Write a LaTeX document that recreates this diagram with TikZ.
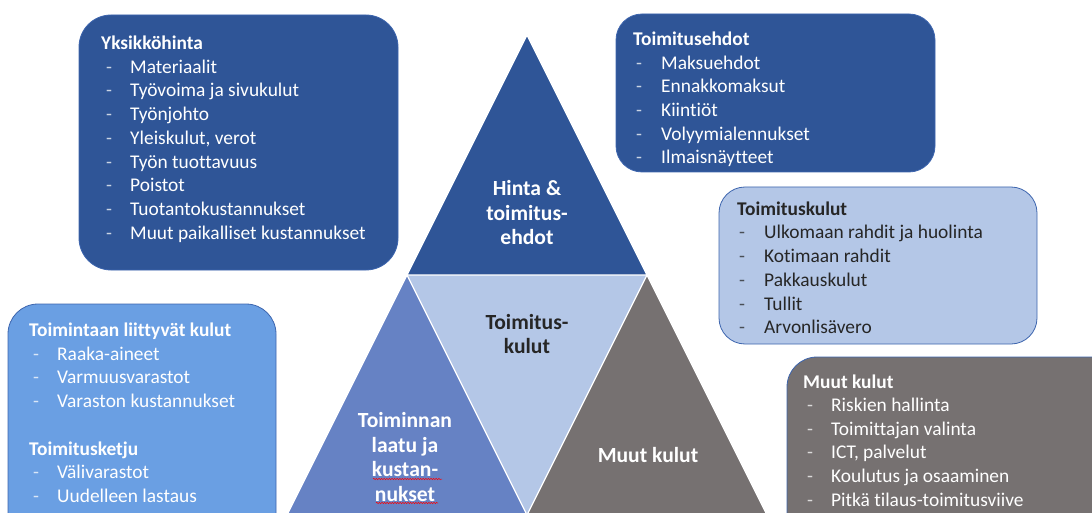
\documentclass[tikz,border=0pt]{standalone}
\usepackage{fontspec}
\setmainfont{Carlito}[Ligatures=NoCommon]
\usetikzlibrary{decorations.pathmorphing}

\definecolor{navy}{HTML}{2F5597}
\definecolor{pale}{HTML}{B4C7E7}
\definecolor{midblue}{HTML}{6682C4}
\definecolor{skyblue}{HTML}{6A9FE3}
\definecolor{stone}{HTML}{767171}
\definecolor{rim}{HTML}{3D65AE}
\definecolor{ink}{HTML}{262626}

\tikzset{
  card/.style={draw=rim, line width=0.8pt},
  facet/.style={draw=white, line width=1.2pt, line join=round},
  txt/.style={inner sep=0pt, anchor=base west, font=\fontsize{19.4}{23.7}\selectfont},
  head/.style={txt, font=\fontsize{19.4}{23.7}\selectfont\bfseries},
  dashmark/.style={txt, opacity=0.75},
  label/.style={inner sep=0pt, align=center, font=\fontsize{21.6}{24.5}\selectfont\bfseries},
  squiggle/.style={draw=red, line width=0.5pt, decorate,
    decoration={snake, amplitude=0.7pt, segment length=2.6pt}}
}

% #1 name, #2 dash x, #3 item x, #4 first item baseline, #5 text colour, #6 items
\newcommand\bulletrows[6]{%
  \foreach \t [count=\i] in {#6} {
    \node[dashmark, text=#5] (#1-d\i) at (#2, #4+23.7*\i-23.7) {-};
    \node[txt, text=#5] (#1-\i) at (#3, #4+23.7*\i-23.7) {\t};
  }%
}

\begin{document}
\begin{tikzpicture}[x=1pt, y=-1pt]
\useasboundingbox (0,0) rectangle (1092,513);
\clip (0,0) rectangle (1092,513);

% pyramid of four triangles
\fill[navy]    (527,35)  -- (407,275) -- (647,275) -- cycle;
\fill[pale]    (407,275) -- (647,275) -- (527,515) -- cycle;
\fill[midblue] (407,275) -- (287,515) -- (527,515) -- cycle;
\fill[stone]   (647,275) -- (527,515) -- (767,515) -- cycle;
\draw[facet] (527,35) -- (407,275) -- (647,275) -- cycle;
\draw[facet] (407,275) -- (527,515) -- (647,275);
\draw[facet] (407,275) -- (287,515);
\draw[facet] (647,275) -- (767,515);

\node[label, text=white] (hinta) at (527,213) {Hinta \&\\toimitus-\\ehdot};
\node[label, text=ink] (toimkulut) at (527,334) {Toimitus-\\kulut};
\node[label, text=white] (laatu) at (405,457) {Toiminnan\\laatu ja\\kustan-\\nukset};
\node[label, text=white] (muut) at (648,455) {Muut kulut};
\draw[squiggle] (373,479) -- (442,479);
\draw[squiggle] (376,503) -- (438,503);

% rounded cards
\path[card, fill=navy, rounded corners=32pt] (79,15) rectangle (398,270);
\path[card, fill=navy, rounded corners=26pt] (616,14) rectangle (935,172);
\path[card, fill=pale, rounded corners=26pt] (719,187) rectangle (1037,344);
\path[card, fill=skyblue, rounded corners=30pt] (8,304) rectangle (276,560);
\path[card, fill=stone, rounded corners=30pt] (787,357) rectangle (1130,560);

% unit price
\node[head, text=white] (yks) at (101,49.5) {Yksikköhinta};
\bulletrows{yk}{106}{130}{73.3}{white}{Materiaalit, Työvoima ja sivukulut, Työnjohto,
  {Yleiskulut, verot}, Työn tuottavuus, Poistot, Tuotantokustannukset,
  Muut paikalliset kustannukset}

% terms of delivery
\node[head, text=white] (ehdot) at (633,45.5) {Toimitusehdot};
\bulletrows{te}{636}{661}{69.2}{white}{Maksuehdot, Ennakkomaksut, Kiintiöt,
  Volyymialennukset, Ilmaisnäytteet}

% delivery costs
\node[head, text=ink] (tk) at (737,215.5) {Toimituskulut};
\bulletrows{tk}{739}{764}{239}{ink}{Ulkomaan rahdit ja huolinta, Kotimaan rahdit,
  Pakkauskulut, Tullit, Arvonlisävero}

% operating costs and supply chain
\node[head, text=white] (tl) at (29,336.5) {Toimintaan liittyvät kulut};
\bulletrows{tl}{33}{57}{360.2}{white}{Raaka-aineet, Varmuusvarastot, Varaston kustannukset}
\node[head, text=white] (ketju) at (29,455) {Toimitusketju};
\bulletrows{kj}{33}{57}{478.7}{white}{Välivarastot, Uudelleen lastaus}

% other costs
\node[head, text=white] (mk) at (803,388) {Muut kulut};
\bulletrows{mk}{807}{831}{411.5}{white}{Riskien hallinta, Toimittajan valinta,
  {ICT, palvelut}, Koulutus ja osaaminen, Pitkä tilaus-toimitusviive}
\end{tikzpicture}
\end{document}
